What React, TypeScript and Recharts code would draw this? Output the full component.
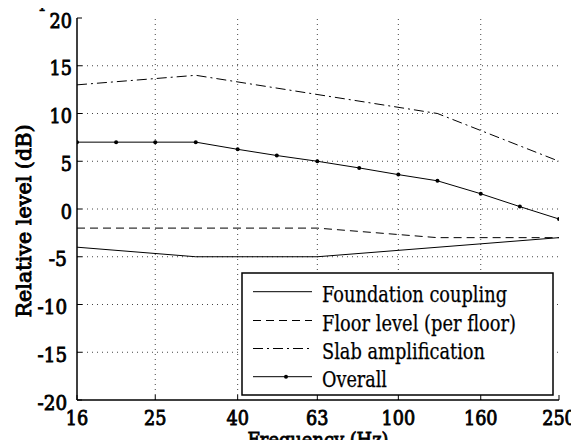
import React from "react";
import { LineChart, Line, XAxis, YAxis, ReferenceLine } from "recharts";

// Times-like serif is not available here; DejaVu Serif squeezed to Times widths
const FONT = "DejaVu Serif";

// tick labels
const freqTicks = [16, 25, 40, 63, 100, 160, 250];
const levelTicks = [-20, -15, -10, -5, 0, 5, 10, 15, 20];

// series (frequency in Hz, relative level in dB)
const foundationFreq = [16, 31.5, 63, 250];
const foundationLevel = [-4, -5, -5, -3];

const floorFreq = [16, 63, 125, 250];
const floorLevel = [-2, -2, -3, -3];

const slabFreq = [16, 31.5, 125, 250];
const slabLevel = [13, 14, 10, 5];

const overallFreq = [16, 20, 25, 31.5, 40, 50, 63, 80, 100, 125, 160, 200, 250];
const overallLevel = [7, 7, 7, 7, 6.25, 5.6, 5, 4.3, 3.6, 2.95, 1.6, 0.25, -1.05];

const seriesNames = [
  "Foundation coupling",
  "Floor level (per floor)",
  "Slab amplification",
  "Overall",
];
const legendWidths = [185, 194, 163, 65];

const toPoints = (fs: number[], vs: number[]) => fs.map((f, i) => ({ f, v: vs[i] }));

const foundationData = toPoints(foundationFreq, foundationLevel);
const floorData = toPoints(floorFreq, floorLevel);
const slabData = toPoints(slabFreq, slabLevel);
const overallData = toPoints(overallFreq, overallLevel);

const dashes = [undefined, "8 5", "10 4 2 4", undefined];
const gridStyle = { stroke: "#444", strokeWidth: 1, strokeDasharray: "1 4" };

// no bold serif face installed: thicken the regular one with a stroke
const boldText = {
  fontFamily: FONT,
  fontSize: 20.5,
  fill: "#000",
  stroke: "#000",
  strokeWidth: 0.9,
  lengthAdjust: "spacingAndGlyphs",
};

// width of a number label as drawn in bold Times at 22px
const numWidth = (s: string) =>
  s.split("").reduce((w, c) => w + (c === "-" ? 7 : 11.2), 0);

function BottomTick(props: any) {
  const { x, y, payload } = props;
  const s = String(payload.value);
  return (
    <g>
      <line x1={x} y1={y} x2={x} y2={y - 5} stroke="#000" strokeWidth={1} />
      <text x={x} y={y + 25} textAnchor="middle" textLength={numWidth(s)} {...boldText}>
        {s}
      </text>
    </g>
  );
}

function TopTick(props: any) {
  const { x, y } = props;
  return <line x1={x} y1={y} x2={x} y2={y + 5} stroke="#000" strokeWidth={1} />;
}

function LeftTick(props: any) {
  const { x, y, payload } = props;
  const s = String(payload.value);
  const neg = payload.value < 0;
  return (
    <g>
      <line x1={x} y1={y} x2={x + 5} y2={y} stroke="#000" strokeWidth={1} />
      <text
        x={x - (neg ? 10 : 5)}
        y={y + 9.5}
        textAnchor="end"
        textLength={numWidth(s)}
        {...boldText}
      >
        {s}
      </text>
    </g>
  );
}

function RightTick(props: any) {
  const { x, y } = props;
  return <line x1={x} y1={y} x2={x - 5} y2={y} stroke="#000" strokeWidth={1} />;
}

function LegendBox() {
  const rowY = [19.7, 48.5, 76.5, 104.7];
  return (
    <svg
      width={313}
      height={124}
      style={{ position: "absolute", left: 241, top: 272 }}
    >
      <rect x={1} y={1} width={311} height={122} fill="#fff" stroke="#000" strokeWidth={1.5} />
      {seriesNames.map((name, i) => (
        <g key={name}>
          <line
            x1={12}
            x2={71}
            y1={rowY[i]}
            y2={rowY[i]}
            stroke="#000"
            strokeWidth={1}
            strokeDasharray={dashes[i]}
          />
          {i === 3 && <circle cx={45} cy={rowY[i]} r={2} fill="#000" />}
          <text
            x={81}
            y={rowY[i] + 10}
            fontFamily={FONT}
            fontSize={22}
            fill="#000"
            stroke="#000"
            strokeWidth={0.25}
            textLength={legendWidths[i]}
            lengthAdjust="spacingAndGlyphs"
          >
            {name}
          </text>
        </g>
      ))}
    </svg>
  );
}

export default function App() {
  return (
    <div
      style={{
        position: "relative",
        width: 579,
        height: 448,
        margin: -8,
        overflow: "hidden",
        background: "#fff",
      }}
    >
      <LineChart
        width={579}
        height={448}
        margin={{ top: 18, right: 20, bottom: 0, left: 0 }}
      >
        <XAxis
          xAxisId="b"
          dataKey="f"
          type="number"
          scale="log"
          domain={[16, 250]}
          ticks={freqTicks}
          allowDataOverflow
          height={48}
          tickSize={0}
          tickMargin={0}
          tickLine={false}
          tick={BottomTick}
          axisLine={{ stroke: "#000", strokeWidth: 1.5 }}
          interval={0}
          label={(p: any) => {
            const vb = p.viewBox;
            return (
              <text
                x={vb.x + vb.width / 2}
                y={447}
                textAnchor="middle"
                textLength={141}
                {...boldText}
              >
                Frequency (Hz)
              </text>
            );
          }}
        />
        <XAxis
          xAxisId="t"
          orientation="top"
          dataKey="f"
          type="number"
          scale="log"
          domain={[16, 250]}
          ticks={freqTicks}
          allowDataOverflow
          height={0}
          tickSize={0}
          tickMargin={0}
          tickLine={false}
          tick={TopTick}
          axisLine={{ stroke: "#000", strokeWidth: 1.5 }}
          interval={0}
        />
        <YAxis
          yAxisId="l"
          dataKey="v"
          type="number"
          domain={[-20, 20]}
          ticks={levelTicks}
          allowDataOverflow
          width={77}
          tickSize={0}
          tickMargin={0}
          tickLine={false}
          tick={LeftTick}
          axisLine={{ stroke: "#000", strokeWidth: 1.5 }}
          interval={0}
          label={(p: any) => {
            const vb = p.viewBox;
            const cy = vb.y + vb.height / 2 + 12;
            return (
              <text
                x={31}
                y={cy}
                transform={`rotate(-90, 31, ${cy})`}
                textAnchor="middle"
                textLength={193}
                {...boldText}
              >
                Relative level (dB)
              </text>
            );
          }}
        />
        <YAxis
          yAxisId="r"
          orientation="right"
          dataKey="v"
          type="number"
          domain={[-20, 20]}
          ticks={levelTicks}
          allowDataOverflow
          width={0}
          tickSize={0}
          tickMargin={0}
          tickLine={false}
          tick={RightTick}
          axisLine={{ stroke: "#000", strokeWidth: 1.5 }}
          interval={0}
        />
        {freqTicks.slice(1, -1).map((t) => (
          <ReferenceLine key={"x" + t} xAxisId="b" yAxisId="l" x={t} {...gridStyle} />
        ))}
        {levelTicks.slice(1, -1).map((t) => (
          <ReferenceLine key={"y" + t} xAxisId="b" yAxisId="l" y={t} {...gridStyle} />
        ))}
        <Line
          xAxisId="b"
          yAxisId="l"
          data={foundationData}
          dataKey="v"
          name={seriesNames[0]}
          stroke="#000"
          strokeWidth={1}
          dot={false}
          isAnimationActive={false}
        />
        <Line
          xAxisId="b"
          yAxisId="l"
          data={floorData}
          dataKey="v"
          name={seriesNames[1]}
          stroke="#000"
          strokeWidth={1}
          strokeDasharray={dashes[1]}
          dot={false}
          isAnimationActive={false}
        />
        <Line
          xAxisId="b"
          yAxisId="l"
          data={slabData}
          dataKey="v"
          name={seriesNames[2]}
          stroke="#000"
          strokeWidth={1}
          strokeDasharray={dashes[2]}
          dot={false}
          isAnimationActive={false}
        />
        <Line
          xAxisId="b"
          yAxisId="l"
          data={overallData}
          dataKey="v"
          name={seriesNames[3]}
          stroke="#000"
          strokeWidth={1}
          dot={{ r: 2, fill: "#000", stroke: "none" }}
          isAnimationActive={false}
        />
      </LineChart>
      <LegendBox />
      <svg
        width={579}
        height={20}
        style={{ position: "absolute", left: 0, top: 0, pointerEvents: "none" }}
      >
        <text
          x={0}
          y={6}
          fontFamily={FONT}
          fontSize={22}
          fill="#000"
          stroke="#000"
          strokeWidth={0.3}
          textLength={175}
          lengthAdjust="spacingAndGlyphs"
        >
          ve specified case.
        </text>
      </svg>
    </div>
  );
}
